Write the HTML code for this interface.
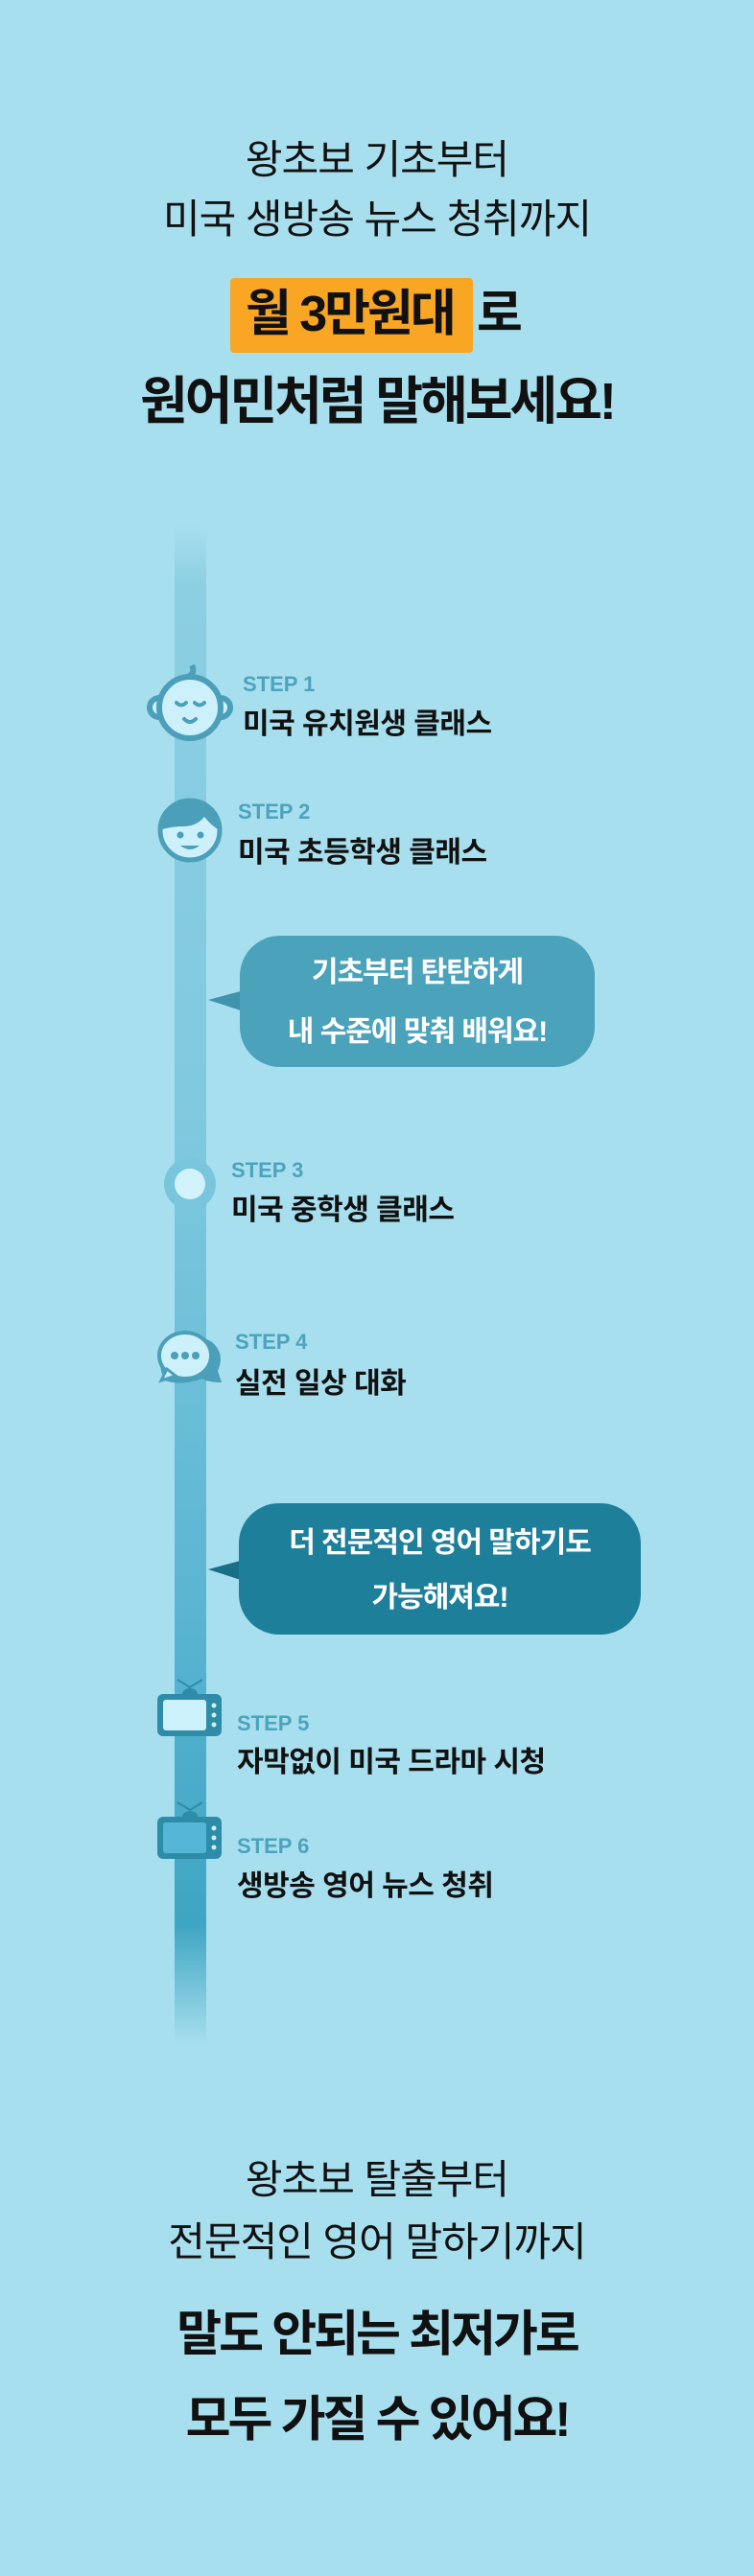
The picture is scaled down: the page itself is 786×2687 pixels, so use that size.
<!DOCTYPE html>
<html><head><meta charset="utf-8">
<style>
body{margin:0;background:#A8DFEE;}
.page{position:relative;width:786px;height:2687px;background:#A8DFEE;overflow:hidden;font-family:"Liberation Sans","Noto Sans CJK KR",sans-serif;color:#111;}
.c{position:absolute;left:0;width:786px;text-align:center;white-space:nowrap;}
.reg{font-size:42px;font-weight:400;letter-spacing:-1px;line-height:1;}
.big{font-size:54px;font-weight:700;letter-spacing:-3px;line-height:1;}
.abs{position:absolute;white-space:nowrap;line-height:1;}
.lab{font-family:"Liberation Sans",sans-serif;font-weight:700;font-size:22px;color:#4BA3BE;}
.tit{font-size:30px;font-weight:700;letter-spacing:-0.5px;color:#111;}
.bub{position:absolute;border-radius:42px;color:#fff;font-weight:700;font-size:30px;letter-spacing:-1px;text-align:center;line-height:1;}
</style></head><body><div class="page">

<div class="c reg" style="top:146px">왕초보 기초부터</div>
<div class="c reg" style="top:208px">미국 생방송 뉴스 청취까지</div>
<div class="abs" style="left:240px;top:290px;width:253px;height:78px;background:#F8A624;border-radius:4px;"></div>
<div class="abs" style="left:256px;top:302px;font-size:52px;font-weight:700;letter-spacing:-3px;">월 3만원대</div>
<div class="abs" style="left:497px;top:302px;font-size:52px;font-weight:700;">로</div>
<div class="c big" style="top:392px">원어민처럼 말해보세요!</div>

<div class="abs" style="left:182px;top:548px;width:33px;height:1585px;background:linear-gradient(to bottom,rgba(140,207,226,0) 0%,#8CCFE2 4%,#7FC9DF 40%,#55B3D0 75%,#3EA5C3 92%,rgba(62,165,195,0) 100%);"></div>

<svg class="abs" style="left:0;top:0" width="786" height="2687">
 <g stroke="#4C9FB9" stroke-width="6" fill="#CDF1FB">
  <circle cx="166" cy="738" r="10"/><circle cx="230" cy="738" r="10"/>
  <circle cx="198" cy="738" r="32"/>
  <path d="M196 706 q8 -4 4 -12" fill="none"/>
 </g>
 <g stroke="#4C9FB9" stroke-width="4" fill="none" stroke-linecap="round">
  <path d="M184 733 q5 5 10 0"/><path d="M203 733 q5 5 10 0"/>
  <path d="M192 750 q6 6 12 0"/>
 </g>
 <circle cx="198" cy="866" r="31" fill="#CDF1FB" stroke="#4C9FB9" stroke-width="5"/>
 <path d="M167 866 a31 31 0 0 1 62 0 q-8 -4 -16 -14 q-8 10 -22 10 q-14 0 -24 4z" fill="#4C9FB9"/>
 <circle cx="188" cy="871" r="3.5" fill="#4C9FB9"/><circle cx="209" cy="871" r="3.5" fill="#4C9FB9"/>
 <path d="M188 882 q10 8 20 0z" fill="#4C9FB9"/>
 <circle cx="198" cy="1235" r="27" fill="#79C6DC"/>
 <circle cx="198" cy="1235" r="16" fill="#D3F3FC"/>
 <path d="M172 1440 q-12 -22 5 -40 q22 -14 44 0 q14 12 6 30 l4 12 q-14 0 -20 -4 q-22 8 -39 2z" fill="#4C9FB9"/>
 <ellipse cx="193" cy="1414" rx="27" ry="24" fill="#CDF1FB" stroke="#4C9FB9" stroke-width="4"/>
 <path d="M168 1440 l6 -12 l9 7z" fill="#CDF1FB" stroke="#4C9FB9" stroke-width="3"/>
 <circle cx="182" cy="1414" r="4" fill="#4C9FB9"/><circle cx="193" cy="1414" r="4" fill="#4C9FB9"/><circle cx="204" cy="1414" r="4" fill="#4C9FB9"/>
 <g>
  <path d="M185 1752 l13 8 l13 -8" stroke="#2E8CA9" stroke-width="2" fill="none"/>
  <path d="M190 1767 a8 6 0 0 1 16 0z" fill="#2E8CA9"/>
  <rect x="164" y="1767" width="67" height="44" rx="6" fill="#2E8CA9"/>
  <rect x="170" y="1773" width="45" height="32" rx="3" fill="#CDF1FB"/>
  <circle cx="223" cy="1779" r="2.5" fill="#CDF1FB"/><circle cx="223" cy="1789" r="2.5" fill="#CDF1FB"/><circle cx="223" cy="1799" r="2.5" fill="#CDF1FB"/>
 </g>
 <g>
  <path d="M185 1880 l13 8 l13 -8" stroke="#2E8CA9" stroke-width="2" fill="none"/>
  <path d="M190 1895 a8 6 0 0 1 16 0z" fill="#2E8CA9"/>
  <rect x="164" y="1895" width="67" height="44" rx="6" fill="#2E8CA9"/>
  <rect x="170" y="1901" width="45" height="32" rx="3" fill="#56B6D5"/>
  <circle cx="223" cy="1907" r="2.5" fill="#CDF1FB"/><circle cx="223" cy="1917" r="2.5" fill="#CDF1FB"/><circle cx="223" cy="1927" r="2.5" fill="#CDF1FB"/>
 </g>
 <path d="M217 1043 L254 1033 L254 1055 Z" fill="#3F93AC"/>
 <path d="M217 1637 L254 1627 L254 1649 Z" fill="#1A6F88"/>
</svg>

<div class="abs lab" style="left:253px;top:703px">STEP 1</div>
<div class="abs tit" style="left:253px;top:741px">미국 유치원생 클래스</div>
<div class="abs lab" style="left:248px;top:836px">STEP 2</div>
<div class="abs tit" style="left:248px;top:875px">미국 초등학생 클래스</div>

<div class="bub" style="left:250px;top:976px;width:370px;height:137px;background:#4AA2BB;">
 <div style="position:absolute;left:0;width:100%;top:24px">기초부터 탄탄하게</div>
 <div style="position:absolute;left:0;width:100%;top:86px">내 수준에 맞춰 배워요!</div>
</div>

<div class="abs lab" style="left:241px;top:1210px">STEP 3</div>
<div class="abs tit" style="left:241px;top:1248px">미국 중학생 클래스</div>
<div class="abs lab" style="left:245px;top:1389px">STEP 4</div>
<div class="abs tit" style="left:245px;top:1429px">실전 일상 대화</div>

<div class="bub" style="left:249px;top:1568px;width:419px;height:137px;background:#1E7F9A;">
 <div style="position:absolute;left:0;width:100%;top:27px">더 전문적인 영어 말하기도</div>
 <div style="position:absolute;left:0;width:100%;top:84px">가능해져요!</div>
</div>

<div class="abs lab" style="left:247px;top:1787px">STEP 5</div>
<div class="abs tit" style="left:247px;top:1824px">자막없이 미국 드라마 시청</div>
<div class="abs lab" style="left:247px;top:1915px">STEP 6</div>
<div class="abs tit" style="left:247px;top:1953px">생방송 영어 뉴스 청취</div>

<div class="c reg" style="top:2253px">왕초보 탈출부터</div>
<div class="c reg" style="top:2318px">전문적인 영어 말하기까지</div>
<div class="c big" style="top:2409px;font-size:51px">말도 안되는 최저가로</div>
<div class="c big" style="top:2498px;font-size:51px">모두 가질 수 있어요!</div>

</div></body></html>
